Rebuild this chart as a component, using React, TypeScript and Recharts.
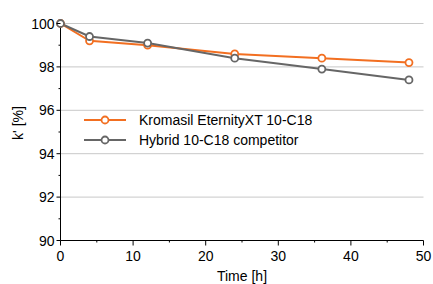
import React from "react";
import { LineChart, Line, XAxis, YAxis, ReferenceLine, Legend } from "recharts";

const times = [0, 4, 12, 24, 36, 48];
const kromasil = [100, 99.2, 99.0, 98.6, 98.4, 98.2];
const hybrid = [100, 99.4, 99.1, 98.4, 97.9, 97.4];
const seriesNames = ["Kromasil EternityXT 10-C18", "Hybrid 10-C18 competitor"];
const seriesColors = ["#f26f21", "#666666"];
const xTicks = [0, 5, 10, 15, 20, 25, 30, 35, 40, 45, 50];
const yTicks = [90, 91, 92, 93, 94, 95, 96, 97, 98, 99, 100];
const gridValues = [92, 94, 96, 98, 100];

const data = times.map((t, i) => ({ time: t, a: kromasil[i], b: hybrid[i] }));

const FONT = "'Liberation Sans', Arial, Helvetica, sans-serif";

const XTick = (props: any) => {
  const { x, y, payload } = props;
  const major = payload.value % 10 === 0;
  return (
    <g>
      <line x1={x} y1={y} x2={x} y2={y + (major ? 5 : 2)} stroke="#000" strokeWidth={1} />
      {major && (
        <text x={x} y={y + 20} textAnchor="middle" fontSize={14} fontFamily={FONT} fill="#000">
          {payload.value}
        </text>
      )}
    </g>
  );
};

const YTick = (props: any) => {
  const { x, y, payload } = props;
  const major = payload.value % 2 === 0;
  return (
    <g>
      <line x1={x - (major ? 4 : 2)} y1={y} x2={x} y2={y} stroke="#000" strokeWidth={1} />
      {major && (
        <text x={x - 6} y={y + 5} textAnchor="end" fontSize={14} fontFamily={FONT} fill="#000">
          {payload.value}
        </text>
      )}
    </g>
  );
};

const LegendContent = (props: any) => {
  const items = [...(props.payload || [])].sort(
    (p: any, q: any) => seriesNames.indexOf(p.value) - seriesNames.indexOf(q.value)
  );
  return (
    <div style={{ fontFamily: FONT, fontSize: 14, color: "#000" }}>
      {items.map((p: any, i: number) => (
        <div key={i} style={{ display: "flex", alignItems: "center", height: 20 }}>
          <svg width={42} height={12} style={{ display: "block" }}>
            <line x1={0} y1={6} x2={42} y2={6} stroke={p.color} strokeWidth={2} />
            <circle cx={21} cy={6} r={3.5} fill="#fff" stroke={p.color} strokeWidth={1.8} />
          </svg>
          <span style={{ marginLeft: 13, whiteSpace: "nowrap", lineHeight: "20px" }}>{p.value}</span>
        </div>
      ))}
    </div>
  );
};

export default function App() {
  return (
    <div style={{ position: "absolute", left: 0, top: 0 }}>
      <LineChart
        width={433}
        height={284}
        data={data}
        margin={{ top: 23.5, right: 9.5, left: 0, bottom: 0 }}
      >
        {gridValues.map((v) => (
          <ReferenceLine key={v} y={v} stroke="#c8c8c8" strokeWidth={1} />
        ))}
        <XAxis
          type="number"
          dataKey="time"
          domain={[0, 50]}
          ticks={xTicks}
          interval={0}
          height={43.5}
          tickSize={0}
          tickMargin={0}
          tickLine={false}
          axisLine={{ stroke: "#000", strokeWidth: 1 }}
          tick={<XTick />}
          label={{
            value: "Time [h]",
            position: "insideBottom",
            offset: 3,
            fontSize: 14,
            fontFamily: FONT,
            fill: "#000",
          }}
        />
        <YAxis
          type="number"
          domain={[90, 100]}
          ticks={yTicks}
          interval={0}
          width={60.5}
          tickSize={0}
          tickMargin={0}
          tickLine={false}
          axisLine={{ stroke: "#000", strokeWidth: 1 }}
          tick={<YTick />}
          label={{
            content: (p: any) => {
              const vb = p.viewBox || { x: 0, y: 0, width: 60, height: 217 };
              const cx = vb.x + 18;
              const cy = vb.y + vb.height / 2 - 9;
              return (
                <text
                  x={cx}
                  y={cy}
                  transform={`rotate(-90 ${cx} ${cy})`}
                  textAnchor="middle"
                  dominantBaseline="central"
                  fontSize={14}
                  fontFamily={FONT}
                  fill="#000"
                >
                  k' [%]
                </text>
              );
            },
          }}
        />
        <Legend
          layout="vertical"
          align="center"
          verticalAlign="middle"
          content={<LegendContent />}
          wrapperStyle={{ left: 84, top: 110, width: 260, height: 40 }}
        />
        <Line
          dataKey="a"
          name={seriesNames[0]}
          stroke={seriesColors[0]}
          strokeWidth={2}
          dot={{ r: 3.5, fill: "#fff", stroke: seriesColors[0], strokeWidth: 1.8 }}
          isAnimationActive={false}
        />
        <Line
          dataKey="b"
          name={seriesNames[1]}
          stroke={seriesColors[1]}
          strokeWidth={2}
          dot={{ r: 3.5, fill: "#fff", stroke: seriesColors[1], strokeWidth: 1.8 }}
          isAnimationActive={false}
        />
      </LineChart>
    </div>
  );
}
